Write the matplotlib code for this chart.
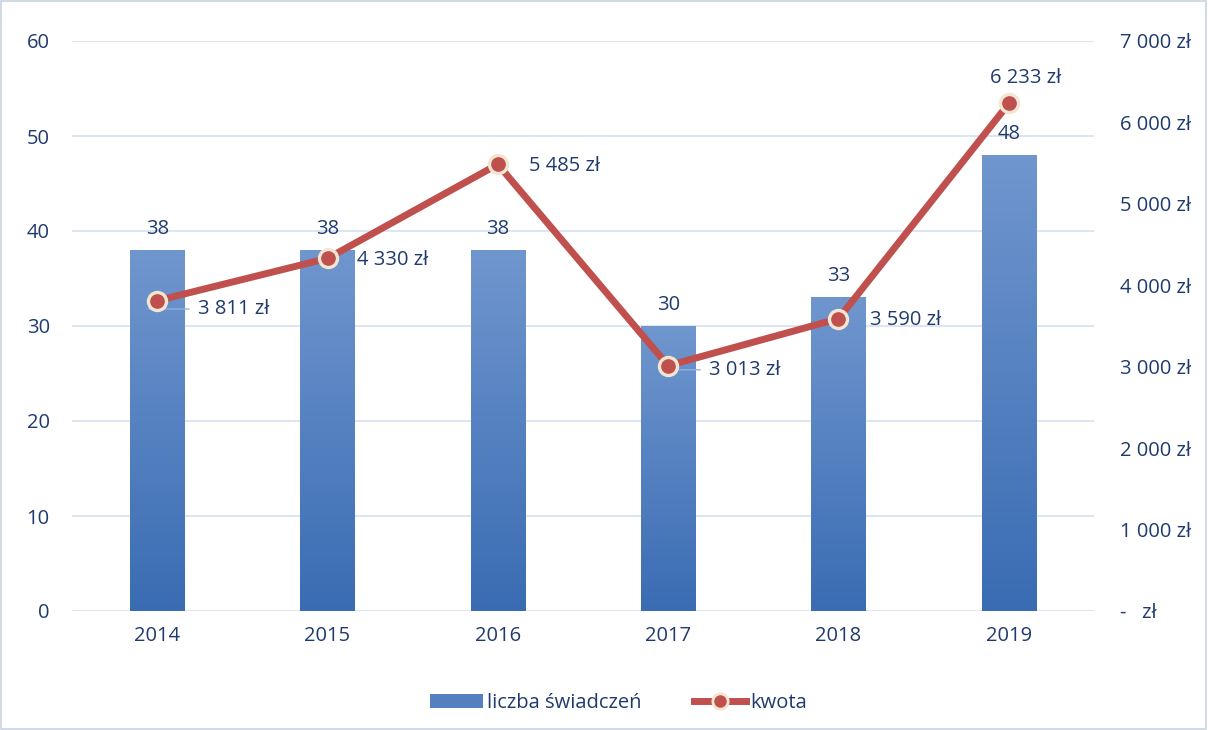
import matplotlib
matplotlib.use("Agg")
import matplotlib.pyplot as plt
import numpy as np
from matplotlib.colors import LinearSegmentedColormap
from matplotlib.lines import Line2D
from matplotlib.patches import Rectangle

years = ["2014", "2015", "2016", "2017", "2018", "2019"]
counts = [38, 38, 38, 30, 33, 48]
amounts = [3811, 4330, 5485, 3013, 3590, 6233]
amount_labels = ["3 811 zł", "4 330 zł", "5 485 zł", "3 013 zł", "3 590 zł", "6 233 zł"]
left_ticks = [0, 10, 20, 30, 40, 50, 60]
right_ticks = [0, 1000, 2000, 3000, 4000, 5000, 6000, 7000]
right_tick_labels = ["-   zł", "1 000 zł", "2 000 zł", "3 000 zł", "4 000 zł",
                     "5 000 zł", "6 000 zł", "7 000 zł"]

plt.rcParams['font.family'] = ['Open Sans', 'DejaVu Sans']
txt = "#1F3B6E"
grid_c = "#D6E1F0"
line_c = "#C0504D"
fs = 14.5

fig = plt.figure(figsize=(12.08, 7.30), dpi=100)
fig.patches.append(Rectangle((0.001, 0.001), 0.997, 0.997, transform=fig.transFigure,
                             fill=False, edgecolor="#C9D3E0", linewidth=1.2))
ax = fig.add_axes([72/1208, 1-611/730, (1094-72)/1208, (611-41)/730])
x = np.arange(len(years))
bw = 0.32

ax.set_xlim(-0.5, len(years)-0.5)
ax.set_ylim(0, 60)
ax.set_yticks(left_ticks)
for t in left_ticks:
    ax.axhline(t, color=grid_c, linewidth=1.2, zorder=0)

cmap = LinearSegmentedColormap.from_list("g", ["#3A6CB3", "#7096CE"])
grad = np.linspace(0, 1, 256).reshape(-1, 1)
bars = ax.bar(x, counts, width=bw, color="none", zorder=2)
for b in bars:
    x0, y0 = b.get_x(), b.get_y()
    w, h = b.get_width(), b.get_height()
    im = ax.imshow(grad, cmap=cmap, origin="lower", aspect="auto",
                   extent=[x0, x0+w, y0, y0+h], zorder=2)
    im.set_clip_path(b)
for xi, c in zip(x, counts):
    ax.annotate(str(c), (xi, c), xytext=(0, 8), textcoords="offset points",
                ha="center", va="bottom", fontsize=fs, color=txt, zorder=5)

ax.set_xticks(x)
ax.set_xticklabels(years)
ax.tick_params(axis="both", length=0, labelsize=fs, colors=txt)
ax.tick_params(axis="x", pad=11)
ax.tick_params(axis="y", pad=16)
for s in ax.spines.values():
    s.set_visible(False)

ax2 = ax.twinx()
ax2.set_ylim(0, 7000)
ax2.set_yticks(right_ticks)
ax2.set_yticklabels(right_tick_labels)
ax2.tick_params(axis="y", length=0, labelsize=fs, colors=txt, pad=19)
for s in ax2.spines.values():
    s.set_visible(False)
ax2.plot(x, amounts, color=line_c, linewidth=5, marker="o", markersize=13,
         markerfacecolor=line_c, markeredgecolor="#F0E6D2", markeredgewidth=2.4,
         zorder=4, solid_capstyle="round")

offsets = [(55, -6), (47, -1), (48, -1), (55, -3), (48, -1), (12, 18)]
for xi, a, lab, off in zip(x, amounts, amount_labels, offsets):
    ax2.annotate(lab, (xi, a), xytext=off, textcoords="offset points",
                 ha="center", va="center", fontsize=fs, color=txt, zorder=6)
# leader lines
for i, dy in [(0, -6), (3, -3)]:
    ax2.annotate("", (x[i], amounts[i]), xytext=(25, dy),
                 textcoords="offset points",
                 arrowprops=dict(arrowstyle="-", color="#8FB0DC", lw=1.0,
                                 connectionstyle="angle,angleA=0,angleB=45"),
                 zorder=3)

handles = [Rectangle((0, 0), 1, 1, facecolor="#5580C0", edgecolor="none"),
           Line2D([0], [0], color=line_c, linewidth=5, marker="o", markersize=11,
                  markerfacecolor=line_c, markeredgecolor="#F0E6D2", markeredgewidth=2)]
fig.legend(handles, ["liczba świadczeń", "kwota"], loc="center",
           bbox_to_anchor=(0.512, 1-703/730), ncol=2, frameon=False,
           fontsize=fs, labelcolor=txt, handlelength=2.6, handletextpad=0.2,
           columnspacing=2.6)

fig.savefig("out.png", dpi=100)
